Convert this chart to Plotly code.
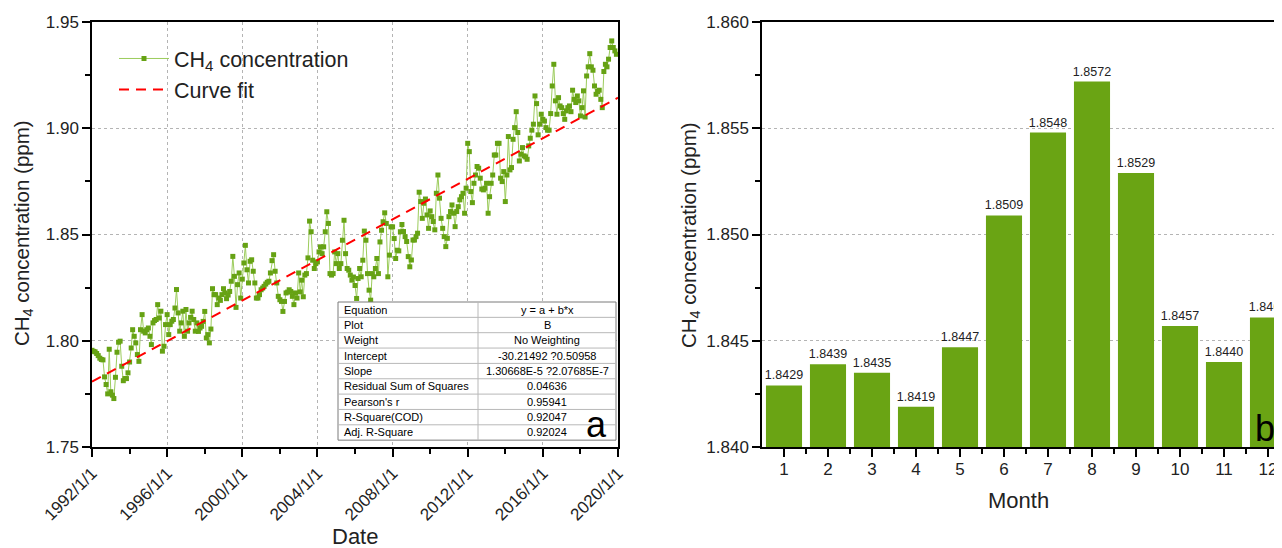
import pandas as pd
import plotly.graph_objects as go

# ---------------- data ----------------
ch4_1992_1995 = [
    1.7955, 1.7950, 1.7948, 1.7940, 1.7930, 1.7918, 1.7912, 1.7910, 1.7830, 1.7794, 1.7750, 1.7960,
    1.7760, 1.7744, 1.7728, 1.7828, 1.7946, 1.7993, 1.7998, 1.7880, 1.7812, 1.7822, 1.7822, 1.7849,
    1.7900, 1.7966, 1.8052, 1.8021, 1.7990, 1.7935, 1.7903, 1.8052, 1.8123, 1.8045, 1.8037, 1.8052,
    1.8060, 1.8021, 1.7982, 1.8084, 1.8095, 1.8100, 1.8170, 1.8107, 1.8139, 1.7951, 1.7974, 1.8076,
]
ch4_1996_1999 = [
    1.8123, 1.8029, 1.8076, 1.8092, 1.8100, 1.8154, 1.8241, 1.8131, 1.8045, 1.8084, 1.8139, 1.8021,
    1.8147, 1.8045, 1.8084, 1.8110, 1.8139, 1.8100, 1.8045, 1.8084, 1.8044, 1.8060, 1.8068, 1.8091,
    1.8138, 1.8013, 1.8029, 1.7990, 1.8055, 1.8245, 1.8217, 1.8217, 1.8170, 1.8201, 1.8190, 1.8217,
    1.8245, 1.8225, 1.8198, 1.8215, 1.8232, 1.8280, 1.8397, 1.8303, 1.8157, 1.8264, 1.8319, 1.8201,
]
ch4_2000_2003 = [
    1.8290, 1.8366, 1.8449, 1.8334, 1.8272, 1.8374, 1.8381, 1.8327, 1.8272, 1.8201, 1.8201, 1.8217,
    1.8240, 1.8248, 1.8256, 1.8267, 1.8275, 1.8280, 1.8319, 1.8377, 1.8405, 1.8327, 1.8272, 1.8209,
    1.8193, 1.8185, 1.8138, 1.8185, 1.8225, 1.8229, 1.8240, 1.8232, 1.8209, 1.8170, 1.8225, 1.8201,
    1.8319, 1.8230, 1.8285, 1.8207, 1.8309, 1.8316, 1.8390, 1.8563, 1.8513, 1.8379, 1.8340, 1.8363,
]
ch4_2004_2007 = [
    1.8371, 1.8418, 1.8442, 1.8410, 1.8442, 1.8513, 1.8607, 1.8552, 1.8316, 1.8309, 1.8316, 1.8418,
    1.8363, 1.8410, 1.8340, 1.8363, 1.8473, 1.8567, 1.8410, 1.8340, 1.8332, 1.8309, 1.8285, 1.8300,
    1.8260, 1.8199, 1.8293, 1.8340, 1.8301, 1.8379, 1.8516, 1.8473, 1.8316, 1.8238, 1.8191, 1.8316,
    1.8301, 1.8340, 1.8387, 1.8316, 1.8465, 1.8520, 1.8560, 1.8602, 1.8552, 1.8301, 1.8403, 1.8536,
]
ch4_2008_2011 = [
    1.8536, 1.8481, 1.8387, 1.8426, 1.8423, 1.8513, 1.8547, 1.8514, 1.8490, 1.8467, 1.8396, 1.8348,
    1.8380, 1.8474, 1.8474, 1.8490, 1.8506, 1.8699, 1.8655, 1.8576, 1.8647, 1.8667, 1.8592, 1.8529,
    1.8611, 1.8584, 1.8561, 1.8522, 1.8694, 1.8780, 1.8671, 1.8576, 1.8529, 1.8490, 1.8443, 1.8482,
    1.8584, 1.8608, 1.8639, 1.8600, 1.8537, 1.8608, 1.8631, 1.8663, 1.8678, 1.8694, 1.8600, 1.8718,
]
ch4_2012_2015 = [
    1.8929, 1.8890, 1.8702, 1.8650, 1.8741, 1.8780, 1.8820, 1.8812, 1.8765, 1.8714, 1.8710, 1.8718,
    1.8741, 1.8600, 1.8678, 1.8741, 1.8780, 1.8874, 1.8874, 1.8929, 1.8929, 1.8765, 1.8749, 1.8796,
    1.8655, 1.8780, 1.8961, 1.8804, 1.8815, 1.8948, 1.9003, 1.9078, 1.8980, 1.8846, 1.8878, 1.8909,
    1.8870, 1.8865, 1.8854, 1.8917, 1.8953, 1.8991, 1.9019, 1.9152, 1.9116, 1.8969, 1.9019, 1.9066,
]
ch4_2016_2019 = [
    1.9042, 1.9034, 1.9003, 1.8991, 1.8991, 1.9069, 1.9199, 1.9301, 1.9129, 1.9066, 1.9144, 1.9105,
    1.9097, 1.9069, 1.9042, 1.9082, 1.9097, 1.9105, 1.9078, 1.9179, 1.9136, 1.9121, 1.9152, 1.9129,
    1.9058, 1.9097, 1.9176, 1.9053, 1.9246, 1.9289, 1.9351, 1.9289, 1.9273, 1.9199, 1.9160, 1.9173,
    1.9179, 1.9136, 1.9097, 1.9267, 1.9301, 1.9289, 1.9325, 1.9380, 1.9411, 1.9380, 1.9364, 1.9348,
]
series_start = "1992-01-01"
fit_end = "2020-01-01"

fit_intercept = -30.21492
fit_slope = 1.30668e-5

date_tickvals = ["1992-01-01", "1996-01-01", "2000-01-01", "2004-01-01",
                 "2008-01-01", "2012-01-01", "2016-01-01", "2020-01-01"]
date_ticktext = ["1992/1/1", "1996/1/1", "2000/1/1", "2004/1/1",
                 "2008/1/1", "2012/1/1", "2016/1/1", "2020/1/1"]
date_minorvals = ["1994-01-01", "1998-01-01", "2002-01-01", "2006-01-01",
                  "2010-01-01", "2014-01-01", "2018-01-01"]

table_labels = ["Equation", "Plot", "Weight", "Intercept", "Slope",
                "Residual Sum of Squares", "Pearson's r", "R-Square(COD)", "Adj. R-Square"]
table_values = ["y = a + b*x", "B", "No Weighting", "-30.21492 ?0.50958",
                "1.30668E-5 ?2.07685E-7", "0.04636", "0.95941", "0.92047", "0.92024"]

months = [1, 2, 3, 4, 5, 6, 7, 8, 9, 10, 11, 12]
month_means = [1.8429, 1.8439, 1.8435, 1.8419, 1.8447, 1.8509,
               1.8548, 1.8572, 1.8529, 1.8457, 1.8440, 1.8461]

# ---------------- build ----------------
ch4 = (ch4_1992_1995 + ch4_1996_1999 + ch4_2000_2003 + ch4_2004_2007
       + ch4_2008_2011 + ch4_2012_2015 + ch4_2016_2019)
dates = pd.date_range(series_start, periods=len(ch4), freq="MS")

fit_x = pd.to_datetime([series_start, fit_end])
jd = (fit_x - pd.Timestamp("1970-01-01")) / pd.Timedelta(days=1) + 2440587.5
fit_y = [fit_intercept + fit_slope * v for v in jd]

FONT = "Liberation Sans, Arial, sans-serif"
GREEN_BAR = "#6aa414"
GREEN_MK = "#66a214"
GREEN_LN = "#9ccc5c"
W, H = 1282, 548
OFF = 8  # page body margin offset


def px(x):
    return (x - OFF) / W


def py(y):
    return (H - (y - OFF)) / H


fig = go.Figure()

fig.add_trace(go.Scatter(
    x=dates, y=ch4, mode="lines+markers", name="CH<sub>4</sub> concentration",
    line=dict(color=GREEN_LN, width=1),
    marker=dict(symbol="square", size=5, color=GREEN_MK),
    xaxis="x", yaxis="y"))
fig.add_trace(go.Scatter(
    x=fit_x, y=fit_y, mode="lines", name="Curve fit",
    line=dict(color="#ff0000", width=2, dash="10px,7px"),
    xaxis="x", yaxis="y"))

fig.add_trace(go.Bar(
    x=months, y=month_means, marker=dict(color=GREEN_BAR, line=dict(width=0)),
    text=[f"{v:.4f}" for v in month_means], textposition="outside",
    textfont=dict(size=12.5, color="#222222", family=FONT), constraintext="none",
    cliponaxis=False, showlegend=False, xaxis="x2", yaxis="y2"))

axis_common = dict(showline=True, linecolor="black", linewidth=1.5,
                   ticks="outside", ticklen=8, tickwidth=1.5, tickcolor="black",
                   tickfont=dict(family=FONT, size=17, color="#222222"),
                   zeroline=False, automargin=False)
grid = dict(showgrid=True, gridcolor="#b4b4b4", gridwidth=1, griddash="dot")

fig.update_layout(
    width=W, height=H, margin=dict(l=0, r=0, t=0, b=0, autoexpand=False),
    paper_bgcolor="white", plot_bgcolor="white",
    font=dict(family=FONT, color="#222222"),
    showlegend=True,
    legend=dict(x=px(114), y=py(38), xanchor="left", yanchor="top",
                bgcolor="rgba(0,0,0,0)", font=dict(family=FONT, size=21.5, color="#222222"),
                itemwidth=50, tracegroupgap=0),
    xaxis=dict(domain=[px(92), px(618)], anchor="y", type="date",
               range=[series_start, fit_end], mirror=True,
               tickmode="array", tickvals=date_tickvals, ticktext=date_ticktext,
               tickangle=-45,
               minor=dict(tickvals=date_minorvals, ticks="outside", ticklen=5,
                          tickwidth=1.5, tickcolor="black", showgrid=False),
               **axis_common, **grid),
    yaxis=dict(domain=[py(447), py(22)], anchor="x", range=[1.75, 1.95],
               tick0=1.75, dtick=0.05, tickformat=".2f", mirror=True,
               minor=dict(dtick=0.025, ticks="outside", ticklen=5, tickwidth=1.5,
                          tickcolor="black", showgrid=False),
               **axis_common, **grid),
    xaxis2=dict(domain=[px(762), 1.0], anchor="y2", range=[0.5, 12.5],
                tickmode="array", tickvals=months, mirror=True, showgrid=False,
                ticklabelstandoff=-2,
                minor=dict(tickvals=[m + 0.5 for m in months[:-1]], ticks="outside",
                           ticklen=5, tickwidth=1.5, tickcolor="black", showgrid=False),
                **axis_common),
    yaxis2=dict(domain=[py(447), py(22)], anchor="x2", range=[1.840, 1.860],
                tick0=1.840, dtick=0.005, tickformat=".3f", mirror=False,
                minor=dict(dtick=0.0025, ticks="outside", ticklen=5, tickwidth=1.5,
                           tickcolor="black", showgrid=False),
                **axis_common, **grid),
    bargap=0.18,
)

# ---- fit-results table (drawn with shapes + text in the lower right of panel a) ----
tx0, tx1, tsplit, ty0 = 338, 616, 478, 302
row_h = 15.35
n_rows = len(table_labels)
ty1 = ty0 + n_rows * row_h
shapes = [dict(type="rect", xref="paper", yref="paper", layer="above",
               x0=px(tx0), x1=px(tx1), y0=py(ty1), y1=py(ty0),
               fillcolor="white", line=dict(color="#7a7a7a", width=1))]
for i in range(1, n_rows):
    yy = py(ty0 + i * row_h)
    shapes.append(dict(type="line", xref="paper", yref="paper", layer="above",
                       x0=px(tx0), x1=px(tx1), y0=yy, y1=yy,
                       line=dict(color="#b8b8b8", width=1)))
shapes.append(dict(type="line", xref="paper", yref="paper", layer="above",
                   x0=px(tsplit), x1=px(tsplit), y0=py(ty1), y1=py(ty0),
                   line=dict(color="#b8b8b8", width=1)))

cell_font = dict(family=FONT, size=11, color="black")
annotations = []
for i, (lab, val) in enumerate(zip(table_labels, table_values)):
    yc = py(ty0 + (i + 0.5) * row_h)
    annotations.append(dict(text=lab, x=px(tx0 + 4), y=yc, xanchor="left", yanchor="middle",
                            showarrow=False, font=cell_font, xref="paper", yref="paper"))
    annotations.append(dict(text=val, x=px((tsplit + tx1) / 2), y=yc, xanchor="center",
                            yanchor="middle", showarrow=False, font=cell_font,
                            xref="paper", yref="paper"))

title_font = dict(family=FONT, size=20.5, color="#222222")
big_font = dict(family=FONT, size=22, color="#222222")
letter_font = dict(family=FONT, size=36, color="black")
centered = dict(xanchor="center", yanchor="middle", showarrow=False,
                xref="paper", yref="paper")
annotations += [
    dict(text="CH<sub>4</sub> concentration (ppm)", x=px(23), y=py(233), textangle=-90,
         font=title_font, **centered),
    dict(text="Date", x=px(355), y=py(536), font=big_font, **centered),
    dict(text="CH<sub>4</sub> concentration (ppm)", x=px(690), y=py(235), textangle=-90,
         font=title_font, **centered),
    dict(text="Month", x=px(1018), y=py(500), font=big_font, **centered),
    dict(text="a", x=px(596), y=py(424), font=letter_font, **centered),
    dict(text="b", x=px(1265), y=py(428), font=letter_font, **centered),
]
fig.update_layout(shapes=shapes, annotations=annotations)

fig.write_html("out.html")
